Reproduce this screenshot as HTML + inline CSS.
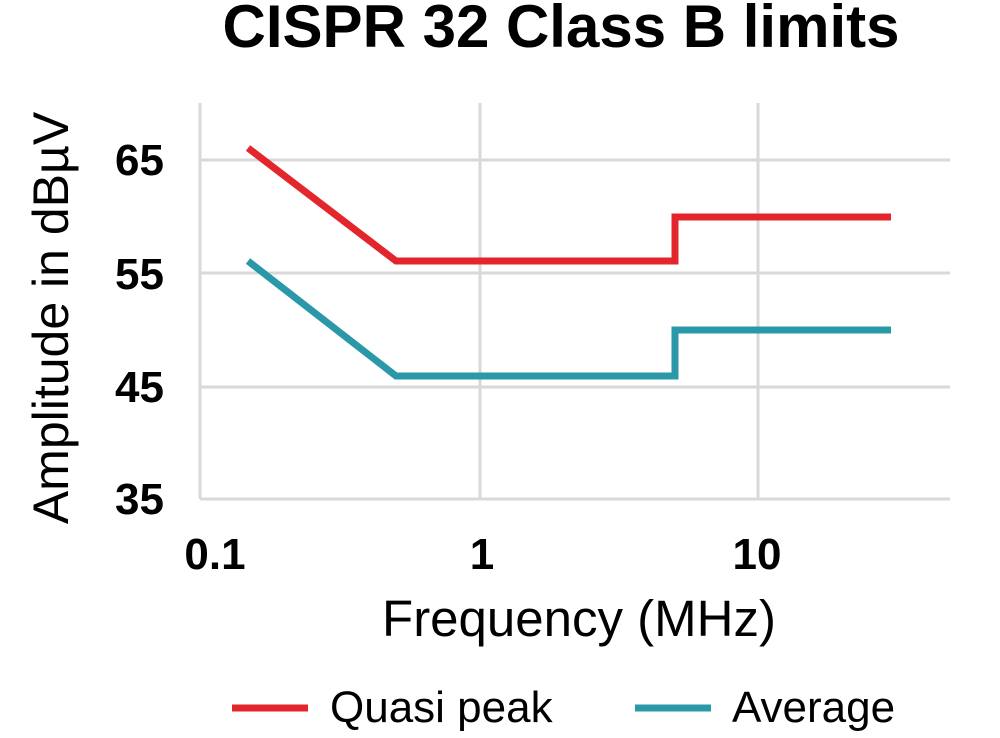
<!DOCTYPE html>
<html><head><meta charset="utf-8"><style>
html,body{margin:0;padding:0;background:#fff;}
</style></head><body>
<svg width="1000" height="733" xmlns="http://www.w3.org/2000/svg" font-family="Liberation Sans, Arial, sans-serif">
<text x="561" y="47" text-anchor="middle" font-size="60" font-weight="bold" fill="#000">CISPR 32 Class B limits</text>
<g stroke="#d9d9d9" stroke-width="3">
<line x1="200" y1="160" x2="950" y2="160"/>
<line x1="200" y1="273" x2="950" y2="273"/>
<line x1="200" y1="387" x2="950" y2="387"/>
<line x1="200" y1="103" x2="200" y2="499"/>
<line x1="480" y1="103" x2="480" y2="499"/>
<line x1="758" y1="103" x2="758" y2="499"/>
<line x1="200" y1="499" x2="950" y2="499"/>
</g>
<g font-size="44" font-weight="bold" fill="#000" text-anchor="end">
<text x="164" y="175">65</text>
<text x="164" y="289">55</text>
<text x="164" y="402">45</text>
<text x="164" y="514">35</text>
</g>
<g font-size="44" font-weight="bold" fill="#000" text-anchor="middle">
<text x="215" y="569">0.1</text>
<text x="482" y="569">1</text>
<text x="757" y="569">10</text>
</g>
<text transform="translate(68,318) rotate(-90)" text-anchor="middle" font-size="50" fill="#000">Amplitude in dBµV</text>
<text x="579" y="636" text-anchor="middle" font-size="51" fill="#000">Frequency (MHz)</text>
<polyline fill="none" stroke="#e3262b" stroke-width="7" points="248,148 396,261 675,261 675,217 891,217"/>
<polyline fill="none" stroke="#2a98a8" stroke-width="7" points="248,261 396,376 675,376 675,330 891,330"/>
<line x1="232" y1="708" x2="308" y2="708" stroke="#e3262b" stroke-width="7"/>
<text x="330" y="722" font-size="44" fill="#000">Quasi peak</text>
<line x1="635" y1="708" x2="711" y2="708" stroke="#2a98a8" stroke-width="7"/>
<text x="732" y="722" font-size="44" fill="#000">Average</text>
</svg>
</body></html>
